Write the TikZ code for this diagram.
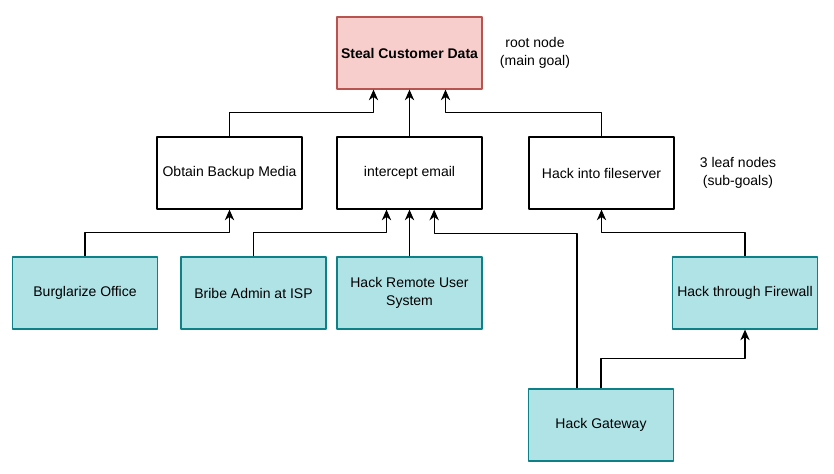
\documentclass[tikz,border=0pt]{standalone}
\usepackage{fontspec}
\setmainfont{Liberation Sans}
\usetikzlibrary{arrows.meta}
\definecolor{rootfill}{HTML}{F8CECC}
\definecolor{rootline}{HTML}{B85450}
\definecolor{leaffill}{HTML}{B0E3E6}
\definecolor{leafline}{HTML}{0E8088}
\begin{document}
\begin{tikzpicture}[x=0.75pt, y=-0.75pt, font=\fontsize{10.5}{13.5}\selectfont, line join=round, >={Stealth[length=8pt,width=7pt,inset=2.5pt]},
	goal/.style={draw, line width=0.9pt, minimum width=108.75pt, minimum height=54pt, align=center, inner sep=1pt},
	rootgoal/.style={goal, draw=rootline, fill=rootfill, font=\fontsize{10.5}{13.5}\selectfont\bfseries},
	leaf/.style={goal, draw=leafline, fill=leaffill},
	arr/.style={->, line width=0.9pt}]
				\useasboundingbox (0,0) rectangle (834,474);
				\node[rootgoal] (root) at (409.5,53) {Steal Customer Data};
				\node[goal] (obtain) at (229.5,173) {Obtain Backup Media};
				\node[goal] (intercept) at (409.5,173) {intercept email};
				\node[goal] (fileserver) at (601.5,173) {Hack into fileserver};
				\foreach\n/\x/\t in {burglar/85/{Burglarize Office},bribe/253.5/{Bribe Admin at ISP},remote/409.5/{Hack Remote User\\System},firewall/745/{Hack through Firewall}}{\node[leaf] (\n) at (\x,293) {\t};}
				\node[leaf] (gateway) at (601,425) {Hack Gateway};
				\node[align=center] (rootnote) at (535,53) {root node\\(main goal)};
				\node[align=center] (leafnote) at (738,173) {3 leaf nodes\\(sub-goals)};
				% into the root
				\draw[arr] (obtain.north) -- ++(0,-24) -| ([xshift=-27pt]root.south);
				\draw[arr] (intercept.north) -- (root.south);
				\draw[arr] (fileserver.north) -- ++(0,-24) -| ([xshift=27pt]root.south);
				% into the sub-goals
				\draw[arr] (burglar.north) -- ++(0,-24) -| (obtain.south);
				\draw[arr] (bribe.north) -- ++(0,-24) -| ([xshift=-17.25pt]intercept.south);
				\draw[arr] (remote.north) -- (intercept.south);
				\draw[arr] ([xshift=-18pt]gateway.north) |- ([xshift=18.5pt,yshift=-18pt]intercept.south) -- ([xshift=18.5pt]intercept.south);
				\draw[arr] (gateway.north) -- ++(0,-30) -| (firewall.south);
				\draw[arr] (firewall.north) -- ++(0,-24) -| (fileserver.south);
			\end{tikzpicture}
\end{document}
